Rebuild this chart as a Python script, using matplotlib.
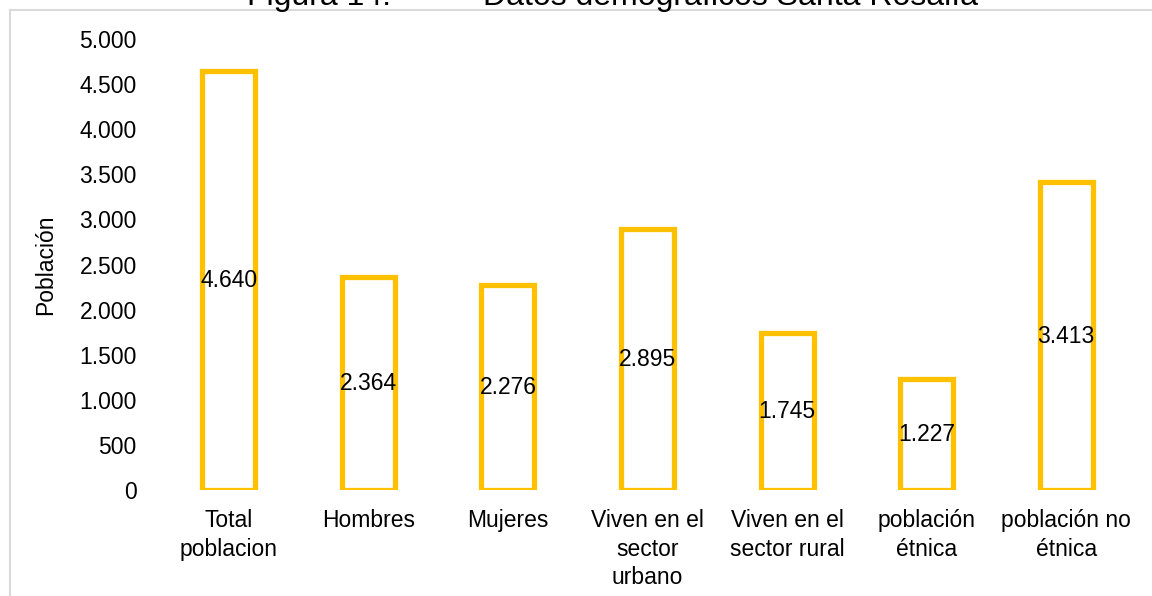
import matplotlib.pyplot as plt
from matplotlib.lines import Line2D
from matplotlib.ticker import FuncFormatter

plt.rcParams['font.family'] = ['Liberation Sans', 'DejaVu Sans']

categories = ["Total\npoblacion", "Hombres", "Mujeres", "Viven en el\nsector\nurbano",
              "Viven en el\nsector rural", "población\nétnica", "población no\nétnica"]
values = [4640, 2364, 2276, 2895, 1745, 1227, 3413]
y_ticks = [0, 500, 1000, 1500, 2000, 2500, 3000, 3500, 4000, 4500, 5000]

W, H = 1152, 596


def miles(v, pos=None):
    # separador de miles con punto
    return f"{int(v):,}".replace(",", ".")


fig = plt.figure(figsize=(W / 100, H / 100), dpi=100)
ax = fig.add_axes([159 / W, 1 - 490 / H, (1136 - 159) / W, (490 - 39) / H])

x = range(len(categories))
bars = ax.bar(x, values, width=0.38, facecolor='none', edgecolor='#FFC000', linewidth=3.8)

for xi, v in zip(x, values):
    ax.text(xi, v / 2, miles(v), ha='center', va='center', fontsize=16.5, color='black')

ax.set_xlim(-0.5, len(categories) - 0.5)
ax.set_ylim(0, 5000)
ax.set_yticks(y_ticks)
ax.yaxis.set_major_formatter(FuncFormatter(miles))
ax.set_xticks(list(x))
ax.set_xticklabels(categories, fontsize=16.5, linespacing=1.3)
ax.tick_params(axis='y', length=0, pad=16, labelsize=16.5)
ax.tick_params(axis='x', length=0, pad=14)
for s in ax.spines.values():
    s.set_visible(False)

ax.set_ylabel("Población", fontsize=16.5)
ax.yaxis.set_label_coords((57 - 159) / (1136 - 159), 0.5)

# titulo cortado arriba, como en la figura original
fig.text(247 / W, 1 - 5 / H, "Figura 14.", fontsize=23, va='baseline', ha='left')
fig.text(483 / W, 1 - 5 / H, "Datos demográficos Santa Rosalía", fontsize=23, va='baseline', ha='left')

# borde gris
fig.add_artist(Line2D([9.5 / W, 1.0], [1 - 10 / H, 1 - 10 / H], color='#d9d9d9', linewidth=1.5))
fig.add_artist(Line2D([9.5 / W, 9.5 / W], [0, 1 - 10 / H], color='#d9d9d9', linewidth=1.5))

fig.savefig("out.png", dpi=100)
